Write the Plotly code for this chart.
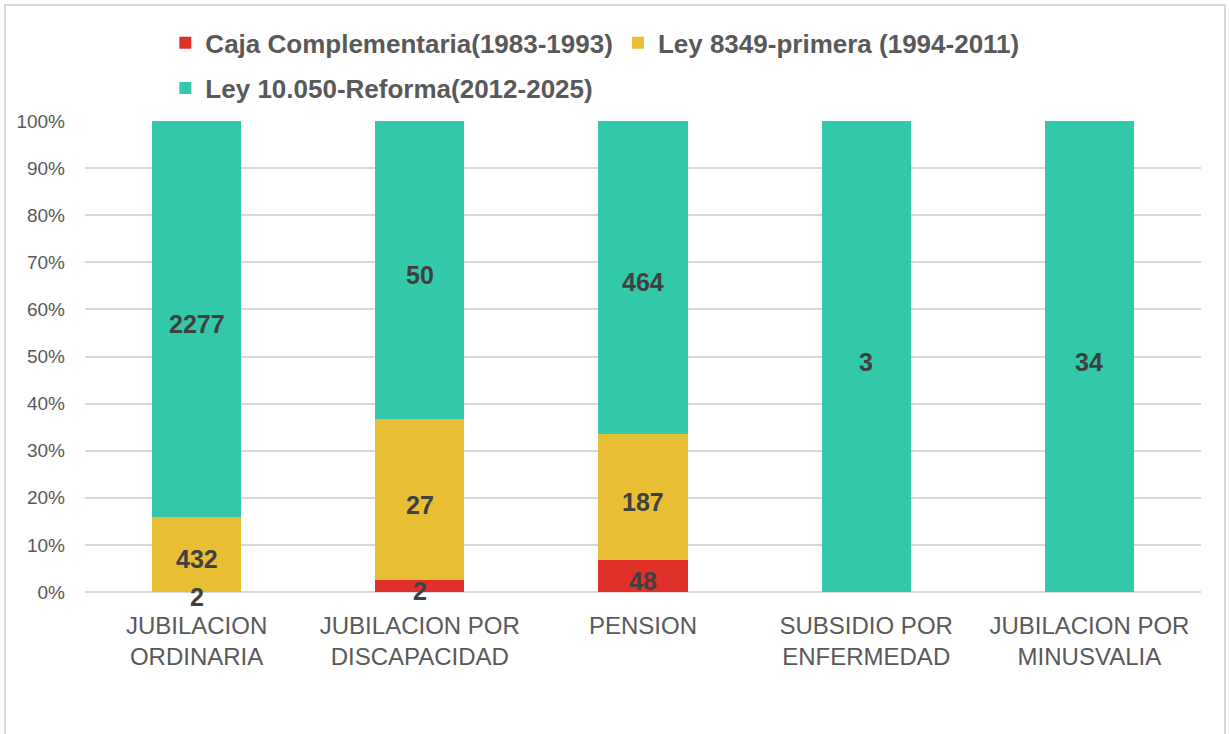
import plotly.graph_objects as go

categories = [
    "JUBILACION<br>ORDINARIA",
    "JUBILACION POR<br>DISCAPACIDAD",
    "PENSION",
    "SUBSIDIO POR<br>ENFERMEDAD",
    "JUBILACION POR<br>MINUSVALIA",
]

caja = [2, 2, 48, 0, 0]
ley_8349 = [432, 27, 187, 0, 0]
ley_10050 = [2277, 50, 464, 3, 34]

series = [
    ("Caja Complementaria(1983-1993)", caja, "#E0302A", "legend"),
    ("Ley 8349-primera (1994-2011)", ley_8349, "#E8BE34", "legend"),
    ("Ley 10.050-Reforma(2012-2025)", ley_10050, "#33C8AA", "legend2"),
]

fig = go.Figure()

for name, values, color, leg in series:
    fig.add_trace(
        go.Bar(
            x=categories,
            y=values,
            name=name,
            marker=dict(color=color, line=dict(width=0)),
            legend=leg,
            hoverinfo="skip",
        )
    )

# data labels at the middle of each stacked segment (percent of column total)
totals = [sum(col) for col in zip(caja, ley_8349, ley_10050)]
base = [0] * len(categories)
for name, values, color, leg in series:
    for i, v in enumerate(values):
        if v:
            fig.add_annotation(
                x=categories[i],
                y=(base[i] + v / 2) / totals[i] * 100,
                text=str(v),
                showarrow=False,
                yshift=-5,
                font=dict(family="Liberation Sans", size=25, color="#404040", weight="bold"),
            )
        base[i] += v

legend_font = dict(family="Liberation Sans", size=26, color="#595959", weight="bold")

fig.update_layout(
    width=1229,
    height=734,
    barmode="stack",
    barnorm="percent",
    bargap=0.6,
    paper_bgcolor="white",
    plot_bgcolor="white",
    margin=dict(l=85, r=28, t=121, b=142),
    legend=dict(
        orientation="h", x=0.072, y=1.166, xanchor="left", yanchor="middle",
        font=legend_font, bgcolor="rgba(0,0,0,0)", traceorder="normal",
    ),
    legend2=dict(
        orientation="h", x=0.072, y=1.07, xanchor="left", yanchor="middle",
        font=legend_font, bgcolor="rgba(0,0,0,0)",
    ),
    xaxis=dict(
        tickfont=dict(family="Liberation Sans", size=24, color="#595959"),
        showline=False,
        ticks="",
        ticklabelstandoff=17,
    ),
    yaxis=dict(
        range=[0, 100],
        dtick=10,
        ticksuffix="%",
        tickfont=dict(family="Liberation Sans", size=19, color="#595959"),
        showgrid=True,
        gridcolor="#D9D9D9",
        gridwidth=1.5,
        zeroline=True,
        zerolinecolor="#D9D9D9",
        zerolinewidth=1.5,
        ticks="",
        ticklabelstandoff=19,
    ),
    shapes=[
        dict(
            type="rect", xref="paper", yref="paper",
            x0=(5 - 85) / 1116, x1=(1225 - 85) / 1116,
            y0=(592 - 760) / 471, y1=(592 - 5) / 471,
            line=dict(color="#D9D9D9", width=2),
            fillcolor="rgba(0,0,0,0)",
            layer="below",
        )
    ],
)

fig.write_html(
    "out.html",
    config={"displayModeBar": False},
    post_script="document.body.style.margin='0';",
)
